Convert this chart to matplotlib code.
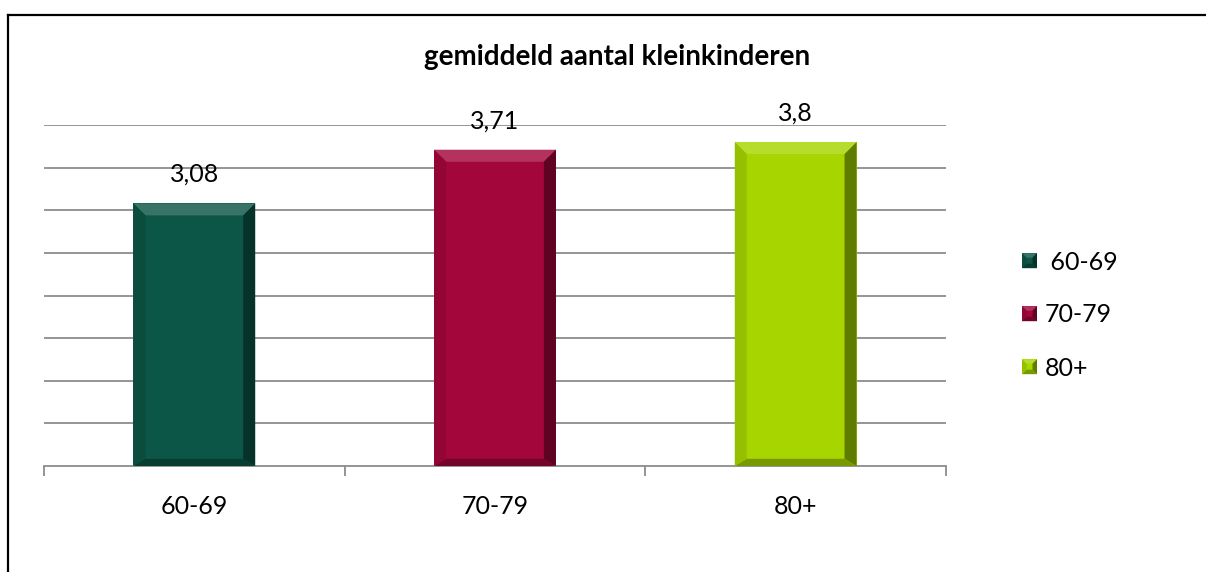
import matplotlib
matplotlib.use("Agg")
import matplotlib.pyplot as plt
from matplotlib.patches import Polygon, Rectangle
from matplotlib.legend_handler import HandlerBase
from matplotlib.lines import Line2D
import matplotlib.colors as mcolors
import numpy as np

categories = ["60-69", "70-79", "80+"]
values = [3.08, 3.71, 3.8]
value_labels = ["3,08", "3,71", "3,8"]
legend_labels = [" 60-69", "70-79", "80+"]
colors = ["#0b5646", "#a3063b", "#a6d500"]
title = "gemiddeld aantal kleinkinderen"

plt.rcParams['font.family'] = ['Lato', 'DejaVu Sans']

W, H = 1206, 572
fig = plt.figure(figsize=(W / 100, H / 100), dpi=100)
ax = fig.add_axes([44 / W, 1 - 466 / H, (946 - 44) / W, (466 - 125) / H])

ax.set_xlim(-0.5, 2.5)
ax.set_ylim(0, 4)
ax.set_yticks(np.arange(0.5, 4.01, 0.5))
ax.yaxis.grid(True, color="#8c8c8c", linewidth=1.3)
ax.set_axisbelow(True)
ax.tick_params(axis='y', left=False, labelleft=False)
for s in ["top", "right", "left"]:
    ax.spines[s].set_visible(False)
ax.spines["bottom"].set_color("#8c8c8c")
ax.spines["bottom"].set_linewidth(1.3)

ax.set_xticks(range(len(categories)))
ax.set_xticklabels(categories, fontsize=18)
ax.tick_params(axis='x', which='major', length=0, pad=21)
ax.set_xticks(np.arange(-0.5, len(categories), 1.0), minor=True)
ax.tick_params(axis='x', which='minor', length=7, width=1.3, color="#8c8c8c")


def shade(c, f):
    r, g, b = mcolors.to_rgb(c)
    if f > 0:
        return (r + (1 - r) * f, g + (1 - g) * f, b + (1 - b) * f)
    return (r * (1 + f), g * (1 + f), b * (1 + f))


bar_w = 0.405
bars = ax.bar(range(len(categories)), values, width=bar_w, color=colors, zorder=2)

# bevel effect
bev_px = 12
pxx = ax.transData.transform((1, 0))[0] - ax.transData.transform((0, 0))[0]
pxy = ax.transData.transform((0, 1))[1] - ax.transData.transform((0, 0))[1]
dx, dy = bev_px / pxx, bev_px / pxy
for i, (b, c) in enumerate(zip(bars, colors)):
    x0, x1 = b.get_x(), b.get_x() + b.get_width()
    y0, y1 = 0, b.get_height()
    faces = [
        ([(x0, y1), (x1, y1), (x1 - dx, y1 - dy), (x0 + dx, y1 - dy)], shade(c, 0.18)),
        ([(x1, y1), (x1, y0), (x1 - dx, y0 + dy * 0.6), (x1 - dx, y1 - dy)], shade(c, -0.42)),
        ([(x0, y0), (x1, y0), (x1 - dx, y0 + dy * 0.6), (x0 + dx, y0 + dy * 0.6)], shade(c, -0.28)),
        ([(x0, y1), (x0, y0), (x0 + dx, y0 + dy * 0.6), (x0 + dx, y1 - dy)], shade(c, -0.1)),
    ]
    for pts, fc in faces:
        ax.add_patch(Polygon(pts, closed=True, facecolor=fc, edgecolor='none', zorder=3))
    ax.annotate(value_labels[i], (i, values[i]), xytext=(0, 15.5), textcoords="offset points",
                ha="center", va="baseline", fontsize=18)


class BevelHandler(HandlerBase):
    def __init__(self, color):
        super().__init__()
        self.color = color

    def create_artists(self, legend, orig_handle, xdescent, ydescent, width, height, fontsize, trans):
        s = min(width, height)
        x0 = -xdescent + (width - s) / 2
        y0 = -ydescent + (height - s) / 2
        x1, y1 = x0 + s, y0 + s
        d = s * 0.3
        c = self.color
        arts = [Rectangle((x0, y0), s, s, facecolor=c, edgecolor='none', transform=trans)]
        faces = [
            ([(x0, y1), (x1, y1), (x1 - d, y1 - d), (x0 + d, y1 - d)], shade(c, 0.18)),
            ([(x1, y1), (x1, y0), (x1 - d, y0 + d), (x1 - d, y1 - d)], shade(c, -0.42)),
            ([(x0, y0), (x1, y0), (x1 - d, y0 + d), (x0 + d, y0 + d)], shade(c, -0.28)),
            ([(x0, y1), (x0, y0), (x0 + d, y0 + d), (x0 + d, y1 - d)], shade(c, -0.1)),
        ]
        for pts, fc in faces:
            arts.append(Polygon(pts, closed=True, facecolor=fc, edgecolor='none', transform=trans))
        return arts


handles = [Line2D([], []) for _ in categories]
hmap = {h: BevelHandler(c) for h, c in zip(handles, colors)}
fig.legend(handles, legend_labels, handler_map=hmap, loc="center left",
           bbox_to_anchor=(1012 / W, 1 - 315 / H), frameon=False, fontsize=18,
           handlelength=0.6, handleheight=0.6, handletextpad=0.3, labelspacing=1.2,
           borderpad=0.4, borderaxespad=0.0)

fig.text(617 / W, 1 - 57 / H, title, ha="center", va="center", fontsize=20, fontweight="bold")

# outer frame (top and left border)
fig.add_artist(Line2D([8 / W, 1], [1 - 14.5 / H, 1 - 14.5 / H], color="black", linewidth=1.6,
                      transform=fig.transFigure))
fig.add_artist(Line2D([8 / W, 8 / W], [0, 1 - 14.5 / H], color="black", linewidth=1.6,
                      transform=fig.transFigure))

fig.savefig("out.png", dpi=100)
